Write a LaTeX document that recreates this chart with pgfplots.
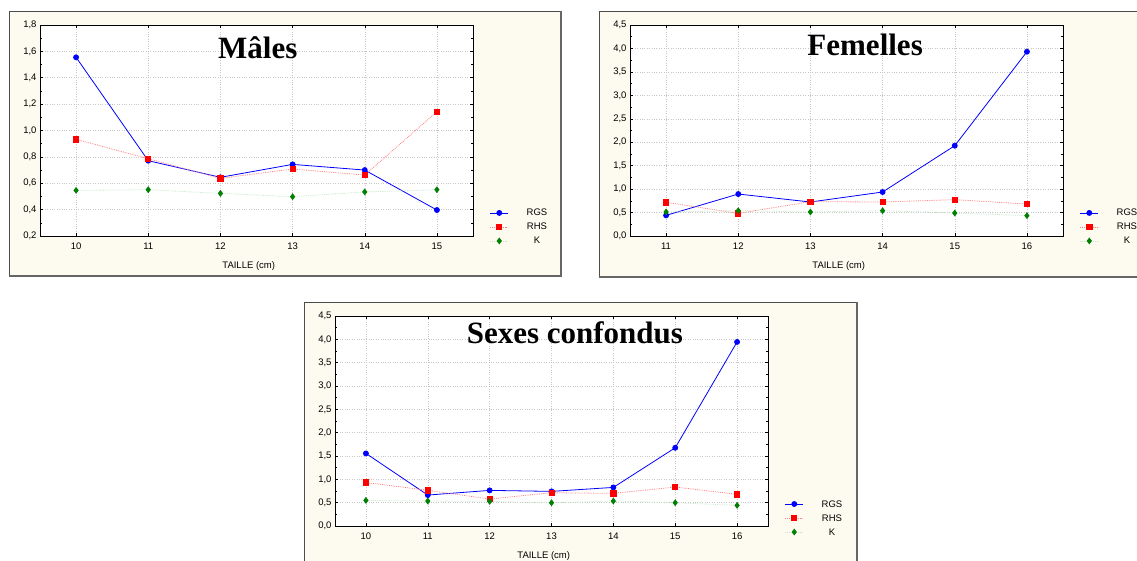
\documentclass[border=0pt]{standalone}
\usepackage{fontspec}
\setmainfont{Liberation Sans}
\newfontfamily\titlefont{Liberation Serif}
\usepackage{pgfplots}
\pgfplotsset{compat=1.18}

\definecolor{cream}{RGB}{253,250,239}
\definecolor{rgscol}{RGB}{0,0,255}
\definecolor{rhscol}{RGB}{255,0,0}
\definecolor{kcol}{RGB}{0,128,0}

\newcommand{\smallfont}{\fontsize{9.5}{11}\selectfont}
\newcommand{\bigtitle}{\titlefont\bfseries\fontsize{31}{31}\selectfont}

\pgfplotsset{
  panel/.style={
    scale only axis, width=433pt, height=211pt,
    anchor=south west,
    axis background/.style={fill=white},
    axis line style={black, line width=0.9pt},
    tick style={black, line width=0.5pt},
    major tick length=3pt, minor tick length=2pt,
    minor y tick num=1,
    grid=major,
    major grid style={dotted, black!22, line width=0.5pt},
    ticklabel style={font=\smallfont},
    /pgf/number format/assume math mode=true,
    yticklabel style={/pgf/number format/.cd, use comma, fixed, fixed zerofill, precision=1},
    xticklabel style={yshift=-3pt},
    xlabel={TAILLE (cm)},
    xlabel style={font=\smallfont, at={(axis description cs:0.482,-0.142)}, anchor=center},
    legend cell align=center,
    legend style={at={(axis description cs:1.039,0.043)}, anchor=west,
      draw=none, fill=none, inner sep=0pt, outer sep=0pt,
      column sep=16pt, row sep=6pt,
      nodes={font=\smallfont, inner ysep=0pt, text height=7pt, text depth=1pt}},
    legend image code/.code={\draw[mark repeat=2,mark phase=2,##1]
      plot coordinates {(0pt,0pt)(9pt,0pt)(18pt,0pt)};},
  },
  rgs/.style={color=rgscol, line width=0.8pt, mark=*, mark size=2.5pt, mark options={solid}},
  rhs/.style={color=rhscol!50, line width=0.8pt, densely dotted, mark=square*, mark size=2.6pt,
    mark options={solid, fill=rhscol, draw=rhscol}},
  kser/.style={color=kcol!20, line width=0.8pt, densely dotted, mark=diamond*, mark size=2.8pt,
    mark options={solid, fill=kcol, draw=kcol}},
}

\begin{document}
\begin{tikzpicture}
\path[use as bounding box] (0,0) rectangle (1137pt,560pt);
\clip (0,0) rectangle (1137pt,560pt);

% panel frames
\draw[fill=cream, draw=black!70, line width=0.8pt] (9pt,284pt) rectangle (561pt,549pt);
\draw[black!60, line width=1.2pt] (9pt,284pt) -- (561pt,284pt) -- (561pt,549pt);
\draw[fill=cream, draw=black!70, line width=0.8pt] (599pt,283pt) rectangle (1150pt,549pt);
\draw[black!60, line width=1.2pt] (599pt,283pt) -- (1150pt,283pt);
\draw[fill=cream, draw=black!70, line width=0.8pt] (304pt,-15pt) rectangle (857pt,258pt);
\draw[black!60, line width=1.2pt] (857pt,-15pt) -- (857pt,258pt);

% Males
\begin{axis}[panel, at={(40pt,324pt)},
  xmin=9.5, xmax=15.5, xtick={10,...,15},
  ymin=0.2, ymax=1.8, ytick={0.2,0.4,0.6,0.8,1.0,1.2,1.4,1.6,1.8}]
  \addplot[rgs] coordinates {(10,1.555)(11,0.771)(12,0.645)(13,0.743)(14,0.700)(15,0.397)};
  \addplot[rhs] coordinates {(10,0.933)(11,0.786)(12,0.637)(13,0.708)(14,0.662)(15,1.143)};
  \addplot[kser] coordinates {(10,0.546)(11,0.551)(12,0.523)(13,0.498)(14,0.534)(15,0.551)};
  \legend{RGS,RHS,K}
  \node[font=\bigtitle] at (axis description cs:0.503,0.891) {Mâles};
\end{axis}

% Femelles
\begin{axis}[panel, at={(630pt,324pt)},
  xmin=10.5, xmax=16.5, xtick={11,...,16},
  ymin=0, ymax=4.5, ytick={0,0.5,1.0,1.5,2.0,2.5,3.0,3.5,4.0,4.5}]
  \addplot[rgs] coordinates {(11,0.44)(12,0.895)(13,0.725)(14,0.938)(15,1.926)(16,3.93)};
  \addplot[rhs] coordinates {(11,0.718)(12,0.483)(13,0.732)(14,0.725)(15,0.775)(16,0.682)};
  \addplot[kser] coordinates {(11,0.512)(12,0.54)(13,0.512)(14,0.54)(15,0.49)(16,0.434)};
  \legend{RGS,RHS,K}
  \node[font=\bigtitle] at (axis description cs:0.543,0.905) {Femelles};
\end{axis}

% Sexes confondus
\begin{axis}[panel, at={(335pt,34pt)}, height=210pt,
  xmin=9.5, xmax=16.5, xtick={10,...,16},
  ymin=0, ymax=4.5, ytick={0,0.5,1.0,1.5,2.0,2.5,3.0,3.5,4.0,4.5},
  legend style={at={(axis description cs:1.039,0.038)}}]
  \addplot[rgs] coordinates {(10,1.555)(11,0.663)(12,0.763)(13,0.742)(14,0.827)(15,1.676)(16,3.944)};
  \addplot[rhs] coordinates {(10,0.934)(11,0.763)(12,0.578)(13,0.713)(14,0.699)(15,0.835)(16,0.678)};
  \addplot[kser] coordinates {(10,0.549)(11,0.535)(12,0.528)(13,0.499)(14,0.535)(15,0.499)(16,0.442)};
  \legend{RGS,RHS,K}
  \node[font=\bigtitle] at (axis description cs:0.554,0.919) {Sexes confondus};
\end{axis}
\end{tikzpicture}
\end{document}
